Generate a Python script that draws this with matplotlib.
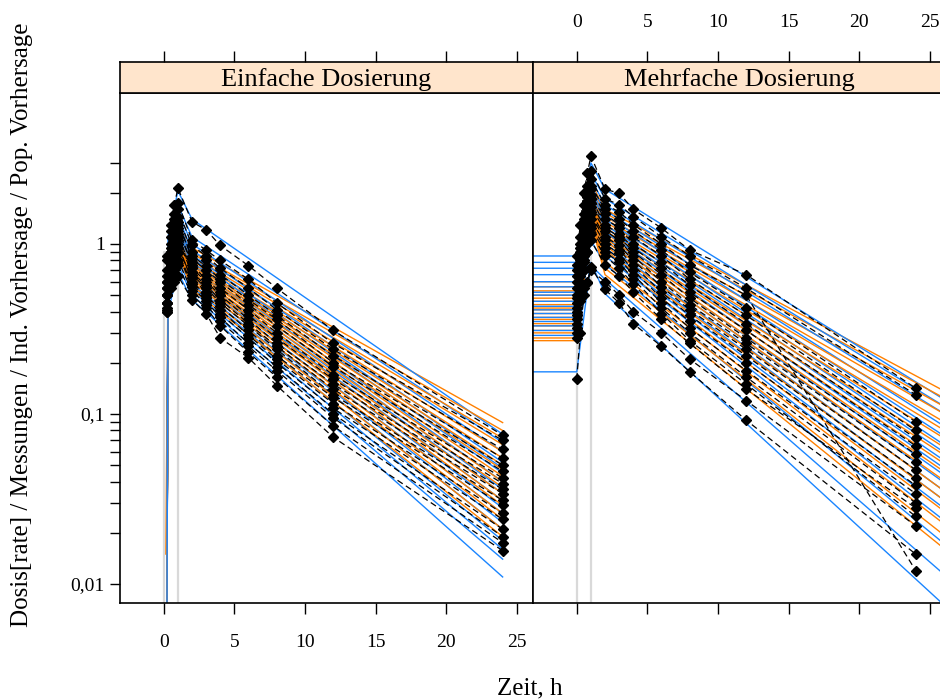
import matplotlib
matplotlib.use('Agg')
import matplotlib.pyplot as plt
from matplotlib.ticker import FixedLocator, NullFormatter

plt.rcParams['font.family'] = ['Liberation Serif', 'DejaVu Serif']

# ---- data ----
panel_titles = ['Einfache Dosierung', 'Mehrfache Dosierung']
x_ticks = [0, 5, 10, 15, 20, 25]
y_ticks = [0.01, 0.1, 1]
y_ticklabels = ['0,01', '0,1', '1']

# dose rate (grey step), same in both panels
dose_t = [0, 0, 1, 1]
dose_rate = [1e-5, 0.9, 0.9, 1e-5]

# single dose: observations
obs_t_single = [0.25, 0.5, 0.75, 1, 2, 3, 4, 6, 8, 12, 24]
obs_single = [
    [0.85, 1.30, 1.70, 2.13, 1.35, 1.21, 0.98, 0.745, 0.55, 0.31, 0.075],
    [0.70, 1.10, 1.50, 1.75, 1.05, 0.92, 0.80, 0.62, 0.45, 0.26, 0.070],
    [0.60, 1.00, 1.30, 1.60, 0.98, 0.85, 0.72, 0.55, 0.41, 0.24, 0.062],
    [0.55, 0.90, 1.20, 1.45, 0.90, 0.80, 0.66, 0.50, 0.38, 0.22, 0.055],
    [0.80, 1.20, 1.40, 1.30, 0.85, 0.74, 0.62, 0.47, 0.36, 0.20, 0.050],
    [0.50, 0.85, 1.10, 1.35, 0.82, 0.70, 0.60, 0.44, 0.33, 0.19, 0.046],
    [0.45, 0.75, 1.00, 1.20, 0.78, 0.66, 0.55, 0.41, 0.30, 0.17, 0.042],
    [0.65, 0.95, 1.15, 1.25, 0.75, 0.62, 0.52, 0.38, 0.28, 0.16, 0.039],
    [0.50, 0.80, 1.00, 1.10, 0.72, 0.60, 0.50, 0.36, 0.26, 0.15, 0.036],
    [0.42, 0.70, 0.95, 1.05, 0.68, 0.57, 0.47, 0.34, 0.25, 0.14, 0.034],
    [0.60, 0.90, 1.00, 1.15, 0.66, 0.55, 0.45, 0.33, 0.24, 0.13, 0.031],
    [0.40, 0.65, 0.85, 0.95, 0.63, 0.52, 0.43, 0.31, 0.22, 0.125, 0.029],
    [0.55, 0.80, 0.90, 1.00, 0.60, 0.50, 0.41, 0.29, 0.21, 0.115, 0.026],
    [0.45, 0.70, 0.80, 0.90, 0.58, 0.48, 0.39, 0.28, 0.20, 0.108, 0.024],
    [0.50, 0.75, 0.85, 0.88, 0.56, 0.46, 0.37, 0.26, 0.19, 0.100, 0.021],
    [0.40, 0.60, 0.72, 0.80, 0.53, 0.44, 0.35, 0.25, 0.18, 0.095, 0.019],
    [0.45, 0.65, 0.70, 0.75, 0.50, 0.42, 0.33, 0.23, 0.165, 0.085, 0.0175],
    [0.41, 0.55, 0.60, 0.65, 0.47, 0.39, 0.28, 0.214, 0.147, 0.073, 0.0157],
]
# single dose: individual (blue) and population (orange) predictions
pred_t_single = [0.15, 0.3, 1, 2, 24]
ipred_single = [
    [1e-4, 1.10, 2.05, 1.40, 0.076],
    [1e-4, 0.95, 1.70, 1.10, 0.068],
    [1e-4, 0.85, 1.55, 1.00, 0.060],
    [1e-4, 0.80, 1.45, 0.92, 0.052],
    [1e-4, 0.75, 1.35, 0.86, 0.048],
    [1e-4, 0.72, 1.30, 0.82, 0.045],
    [1e-4, 0.68, 1.22, 0.78, 0.040],
    [1e-4, 0.66, 1.20, 0.75, 0.036],
    [1e-4, 0.62, 1.12, 0.72, 0.034],
    [1e-4, 0.60, 1.08, 0.68, 0.031],
    [1e-4, 0.58, 1.05, 0.66, 0.028],
    [1e-4, 0.55, 0.98, 0.63, 0.026],
    [1e-4, 0.53, 0.95, 0.60, 0.023],
    [1e-4, 0.50, 0.90, 0.58, 0.021],
    [1e-4, 0.49, 0.88, 0.56, 0.018],
    [1e-4, 0.46, 0.82, 0.53, 0.016],
    [1e-4, 0.44, 0.76, 0.50, 0.014],
    [1e-4, 0.40, 0.68, 0.47, 0.011],
]
pred_single = [
    [0.015, 0.70, 1.30, 0.95, 0.089],
    [1e-4, 0.68, 1.28, 0.90, 0.080],
    [1e-4, 0.66, 1.25, 0.88, 0.072],
    [1e-4, 0.65, 1.22, 0.85, 0.066],
    [1e-4, 0.64, 1.20, 0.82, 0.060],
    [1e-4, 0.62, 1.18, 0.80, 0.055],
    [1e-4, 0.61, 1.15, 0.78, 0.050],
    [1e-4, 0.60, 1.12, 0.76, 0.047],
    [1e-4, 0.58, 1.10, 0.74, 0.043],
    [1e-4, 0.57, 1.08, 0.72, 0.040],
    [1e-4, 0.56, 1.06, 0.70, 0.037],
    [1e-4, 0.55, 1.04, 0.68, 0.034],
    [1e-4, 0.54, 1.02, 0.66, 0.031],
    [1e-4, 0.52, 1.00, 0.64, 0.029],
    [1e-4, 0.51, 0.98, 0.62, 0.026],
    [1e-4, 0.50, 0.95, 0.60, 0.024],
    [1e-4, 0.48, 0.92, 0.57, 0.021],
    [1e-4, 0.46, 0.88, 0.54, 0.019],
]

# multiple dose: observations
obs_t_multi = [0, 0.25, 0.5, 0.75, 1, 2, 3, 4, 6, 8, 12, 24]
obs_multi = [
    [0.85, 1.30, 2.00, 2.60, 3.30, 2.10, 1.99, 1.60, 1.24, 0.92, 0.66, 0.142],
    [0.75, 1.10, 1.70, 2.20, 2.70, 1.85, 1.70, 1.45, 1.10, 0.85, 0.55, 0.130],
    [0.70, 1.00, 1.50, 1.90, 2.40, 1.70, 1.55, 1.30, 1.00, 0.75, 0.50, 0.012],
    [0.65, 0.95, 1.40, 1.80, 2.20, 1.60, 1.40, 1.20, 0.92, 0.68, 0.42, 0.090],
    [0.60, 0.90, 1.30, 1.70, 2.10, 1.50, 1.30, 1.10, 0.85, 0.62, 0.38, 0.080],
    [0.55, 0.85, 1.20, 1.60, 1.95, 1.40, 1.25, 1.00, 0.78, 0.57, 0.34, 0.072],
    [0.50, 0.80, 1.15, 1.50, 1.85, 1.30, 1.15, 0.95, 0.72, 0.52, 0.31, 0.065],
    [0.48, 0.75, 1.10, 1.40, 1.75, 1.25, 1.10, 0.90, 0.66, 0.48, 0.28, 0.058],
    [0.45, 0.70, 1.00, 1.30, 1.65, 1.20, 1.05, 0.85, 0.60, 0.44, 0.26, 0.052],
    [0.42, 0.68, 0.95, 1.25, 1.55, 1.10, 0.98, 0.80, 0.56, 0.41, 0.24, 0.047],
    [0.40, 0.65, 0.90, 1.20, 1.50, 1.05, 0.92, 0.75, 0.52, 0.38, 0.22, 0.042],
    [0.38, 0.60, 0.85, 1.10, 1.40, 1.00, 0.88, 0.70, 0.48, 0.35, 0.20, 0.038],
    [0.36, 0.58, 0.80, 1.05, 1.30, 0.95, 0.82, 0.66, 0.45, 0.32, 0.18, 0.034],
    [0.34, 0.55, 0.78, 1.00, 1.25, 0.90, 0.78, 0.62, 0.42, 0.30, 0.165, 0.030],
    [0.32, 0.50, 0.70, 0.90, 1.15, 0.85, 0.72, 0.58, 0.39, 0.27, 0.150, 0.025],
    [0.30, 0.50, 0.70, 0.90, 1.05, 0.75, 0.65, 0.52, 0.36, 0.26, 0.140, 0.028],
    [0.28, 0.46, 0.55, 0.59, 0.70, 0.60, 0.50, 0.40, 0.30, 0.21, 0.120, 0.022],
    [0.16, 0.30, 0.50, 0.60, 0.73, 0.54, 0.45, 0.34, 0.25, 0.177, 0.092, 0.015],
]
# multiple dose: predictions, starting before t=0 at the trough level
pred_t_multi = [-3.5, 0, 1, 2, 26.5]
ipred_multi = [
    [0.85, 0.85, 3.00, 2.10, 0.115],
    [0.78, 0.78, 2.60, 1.85, 0.105],
    [0.72, 0.72, 2.40, 1.70, 0.095],
    [0.66, 0.66, 2.20, 1.58, 0.080],
    [0.60, 0.60, 2.05, 1.48, 0.070],
    [0.56, 0.56, 1.95, 1.40, 0.062],
    [0.52, 0.52, 1.85, 1.30, 0.056],
    [0.50, 0.50, 1.75, 1.25, 0.050],
    [0.46, 0.46, 1.65, 1.18, 0.045],
    [0.43, 0.43, 1.55, 1.10, 0.041],
    [0.41, 0.41, 1.50, 1.05, 0.037],
    [0.39, 0.39, 1.40, 1.00, 0.033],
    [0.37, 0.37, 1.32, 0.95, 0.029],
    [0.35, 0.35, 1.25, 0.90, 0.026],
    [0.33, 0.33, 1.15, 0.85, 0.022],
    [0.31, 0.31, 1.05, 0.76, 0.016],
    [0.29, 0.29, 0.75, 0.62, 0.0105],
    [0.177, 0.177, 0.78, 0.51, 0.0069],
]
pred_multi = [
    [0.60, 0.60, 2.30, 1.60, 0.130],
    [0.56, 0.56, 2.20, 1.52, 0.118],
    [0.53, 0.53, 2.10, 1.45, 0.105],
    [0.50, 0.50, 2.05, 1.40, 0.095],
    [0.48, 0.48, 2.00, 1.35, 0.085],
    [0.46, 0.46, 1.95, 1.30, 0.076],
    [0.44, 0.44, 1.90, 1.25, 0.068],
    [0.42, 0.42, 1.85, 1.20, 0.060],
    [0.41, 0.41, 1.80, 1.16, 0.054],
    [0.39, 0.39, 1.75, 1.12, 0.048],
    [0.37, 0.37, 1.70, 1.08, 0.043],
    [0.36, 0.36, 1.65, 1.04, 0.038],
    [0.34, 0.34, 1.60, 0.98, 0.033],
    [0.33, 0.33, 1.55, 0.92, 0.029],
    [0.31, 0.31, 1.50, 0.85, 0.025],
    [0.30, 0.30, 1.45, 0.78, 0.021],
    [0.28, 0.28, 1.40, 0.72, 0.018],
    [0.27, 0.27, 1.35, 0.66, 0.015],
]

blue = '#1a85ff'
orange = '#ff8000'
grey = '#d9d9d9'
strip_bg = '#ffe5cc'

fig = plt.figure(figsize=(9.4, 7.0), dpi=100)

W, H = 940.0, 700.0
pw = 413 / W
p_bottom = 1 - 603 / H
p_height = (603 - 93) / H
s_bottom = 1 - 93 / H
s_height = 31 / H
lefts = [120 / W, 533 / W]

panels = [
    (obs_t_single, obs_single, pred_t_single, ipred_single, pred_single),
    (obs_t_multi, obs_multi, pred_t_multi, ipred_multi, pred_multi),
]

xlim = (-3.1, 26.15)
ylim = (0.00773, 7.73)
minor = [m * d for d in [0.01, 0.1] for m in range(2, 10)] + [2, 3]

for i, (ot, obs, pt, ipred, pred) in enumerate(panels):
    ax = fig.add_axes([lefts[i], p_bottom, pw, p_height])
    ax.set_yscale('log')
    ax.set_xlim(*xlim)
    ax.set_ylim(*ylim)

    ax.plot(dose_t, dose_rate, color=grey, lw=1.6, zorder=1)
    for ip, pp in zip(ipred, pred):
        ax.plot(pt, pp, color=orange, lw=1.0, zorder=2)
        ax.plot(pt, ip, color=blue, lw=1.0, zorder=2)
    for row in obs:
        ax.plot(ot, row, color='black', lw=0.9, ls=(0, (5, 3)), zorder=3)
    for row in obs:
        ax.plot(ot, row, ls='none', marker='D', ms=5.5, color='black', zorder=4)

    ax.set_xticks(x_ticks)
    ax.tick_params(axis='x', direction='out', length=8, width=1, pad=14,
                   labelsize=14, top=False, labelbottom=(i == 0))
    ax.yaxis.set_major_locator(FixedLocator(y_ticks))
    ax.yaxis.set_minor_locator(FixedLocator(minor))
    ax.yaxis.set_minor_formatter(NullFormatter())
    if i == 0:
        ax.set_yticklabels(y_ticklabels)
        ax.tick_params(axis='y', which='both', direction='out', length=7,
                       width=1, pad=4, labelsize=14)
    else:
        ax.tick_params(axis='y', which='both', left=False, labelleft=False)
    for sp in ax.spines.values():
        sp.set_linewidth(1.2)

    st = fig.add_axes([lefts[i], s_bottom, pw, s_height])
    st.set_facecolor(strip_bg)
    st.set_xlim(*xlim)
    st.set_ylim(0, 1)
    st.set_yticks([])
    st.set_xticks(x_ticks)
    st.xaxis.set_ticks_position('top')
    st.tick_params(axis='x', direction='out', length=8, width=1, pad=14,
                   labelsize=14, bottom=False, labelbottom=False,
                   labeltop=(i == 1))
    for sp in st.spines.values():
        sp.set_linewidth(1.2)
    st.text(0.5, 0.45, panel_titles[i], transform=st.transAxes,
            ha='center', va='center', fontsize=19)

fig.text(530 / W, 1 - 688 / H, 'Zeit, h', ha='center', va='center', fontsize=18)
fig.text(22 / W, 1 - 325 / H,
         'Dosis[rate] / Messungen / Ind. Vorhersage / Pop. Vorhersage',
         ha='center', va='center', rotation=90, fontsize=18)

fig.savefig('out.png', dpi=100)
